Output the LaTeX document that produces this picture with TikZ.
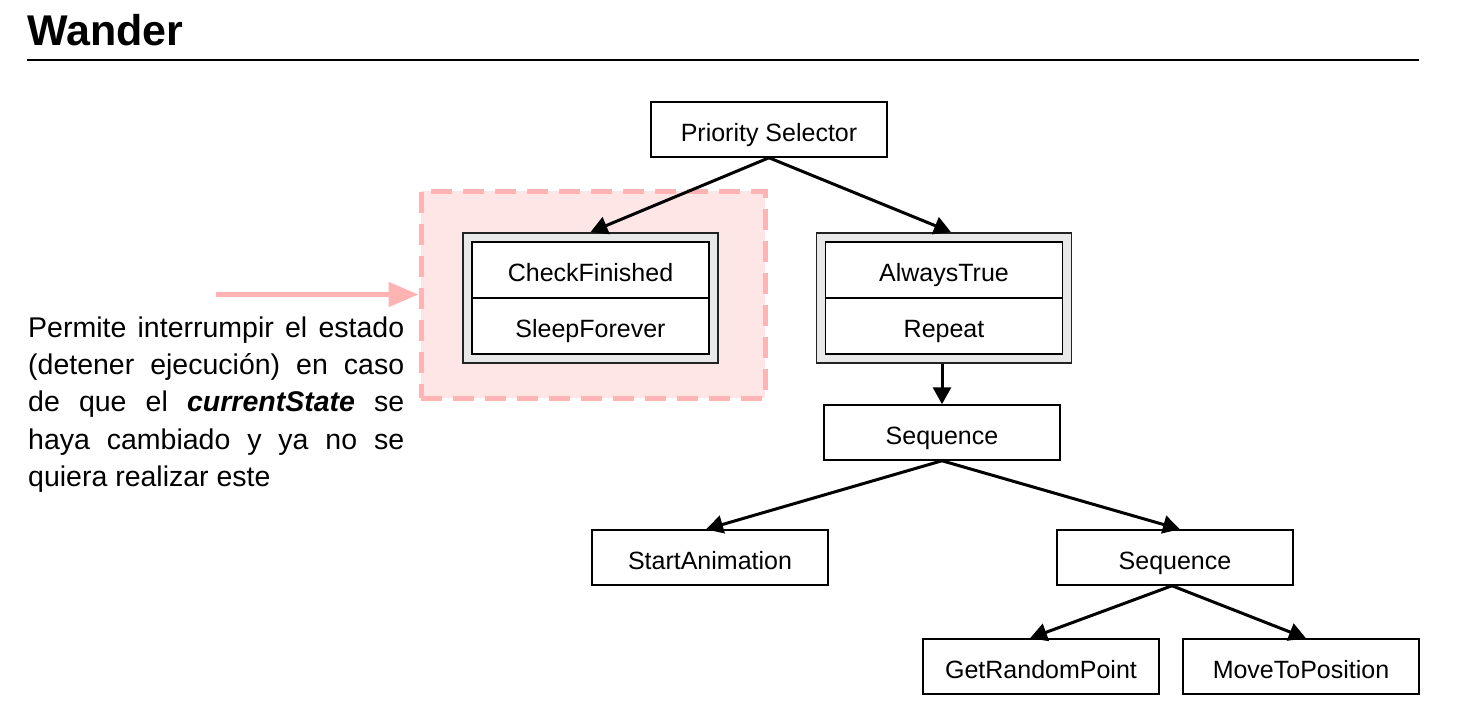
\documentclass[tikz,border=0pt]{standalone}
\usepackage{fontspec}
\setmainfont{Liberation Sans}
\usetikzlibrary{arrows.meta}
\definecolor{pinkfill}{HTML}{FFE6E6}
\definecolor{pinkline}{HTML}{FFB3B3}
\definecolor{decofill}{HTML}{E8E8E8}
\definecolor{decoline}{HTML}{222222}
\tikzset{
  bt/.style={draw=black,line width=1.5pt,fill=white,minimum width=236pt,minimum height=55pt,inner sep=0pt,text height=23pt,text depth=0pt,font=\fontsize{25}{30}\selectfont},
  half/.style={draw=black,line width=1.5pt,fill=white,minimum width=237pt,minimum height=56pt,inner sep=0pt,text height=22pt,text depth=0pt,font=\fontsize{25}{30}\selectfont},
  deco/.style={draw=decoline,line width=1.8pt,fill=decofill,minimum width=255pt,minimum height=130pt,inner sep=0pt},
  link/.style={line width=3pt,-{Triangle[length=17pt,width=18pt]}},
}
\begin{document}
\begin{tikzpicture}[x=1pt,y=-1pt]
\useasboundingbox (0,0) rectangle (1460,713);
% title
\node[anchor=base west,inner sep=0pt,font=\fontsize{43}{50}\selectfont\bfseries] (title) at (27,45) {Wander};
\draw[line width=2pt] (27,60) coordinate (rl) -- (1419,60) coordinate (rr);
% highlight region
\node[draw=pinkline,fill=pinkfill,line width=5pt,dash pattern=on 21pt off 11pt,minimum width=344pt,minimum height=207pt,inner sep=0pt] (focus) at (593,294.5) {};
\coordinate (arrstart) at (216,294.5);
\draw[pinkline,line width=5pt,-{Triangle[length=30pt,width=24pt]}] (arrstart) -- (focus.west);
% text
\node[anchor=north west,inner sep=0pt,text width=376pt,align=justify,font=\fontsize{28.5}{37.3}\selectfont] (note) at (28,316.5)
 {Permite interrumpir el estado\linebreak (detener ejecución) en caso\linebreak de que el \textbf{\textit{currentState}} se\linebreak haya cambiado y ya no se\linebreak quiera realizar este};
% nodes
\node[bt] (ps) at (769,129.5) {Priority Selector};
\node[deco] (dl) at (590.5,298) {};
\node[half] (dl1) at (590.5,270) {CheckFinished};
\node[half] (dl2) at (590.5,326) {SleepForever};
\node[deco] (dr) at (944,298) {};
\node[half] (dr1) at (944,270) {AlwaysTrue};
\node[half] (dr2) at (944,326) {Repeat};
\node[bt] (seq1) at (942,432.5) {Sequence};
\node[bt] (sa) at (710,557.5) {StartAnimation};
\node[bt] (seq2) at (1175,557.5) {Sequence};
\node[bt] (grp) at (1041,666.5) {GetRandomPoint};
\node[bt] (mtp) at (1301,666.5) {MoveToPosition};
% connectors
\draw[link] (ps.south) -- (dl.north);
\draw[link] (ps.south) -- ([xshift=7pt]dr.north);
\draw[link] ([xshift=-2pt]dr.south) -- (seq1.north);
\draw[link] (seq1.south) -- ([xshift=-4pt]sa.north);
\draw[link] (seq1.south) -- ([xshift=5pt]seq2.north);
\draw[link] ([xshift=-3pt]seq2.south) -- ([xshift=-11pt]grp.north);
\draw[link] ([xshift=-3pt]seq2.south) -- ([xshift=5pt]mtp.north);
\end{tikzpicture}
\end{document}
